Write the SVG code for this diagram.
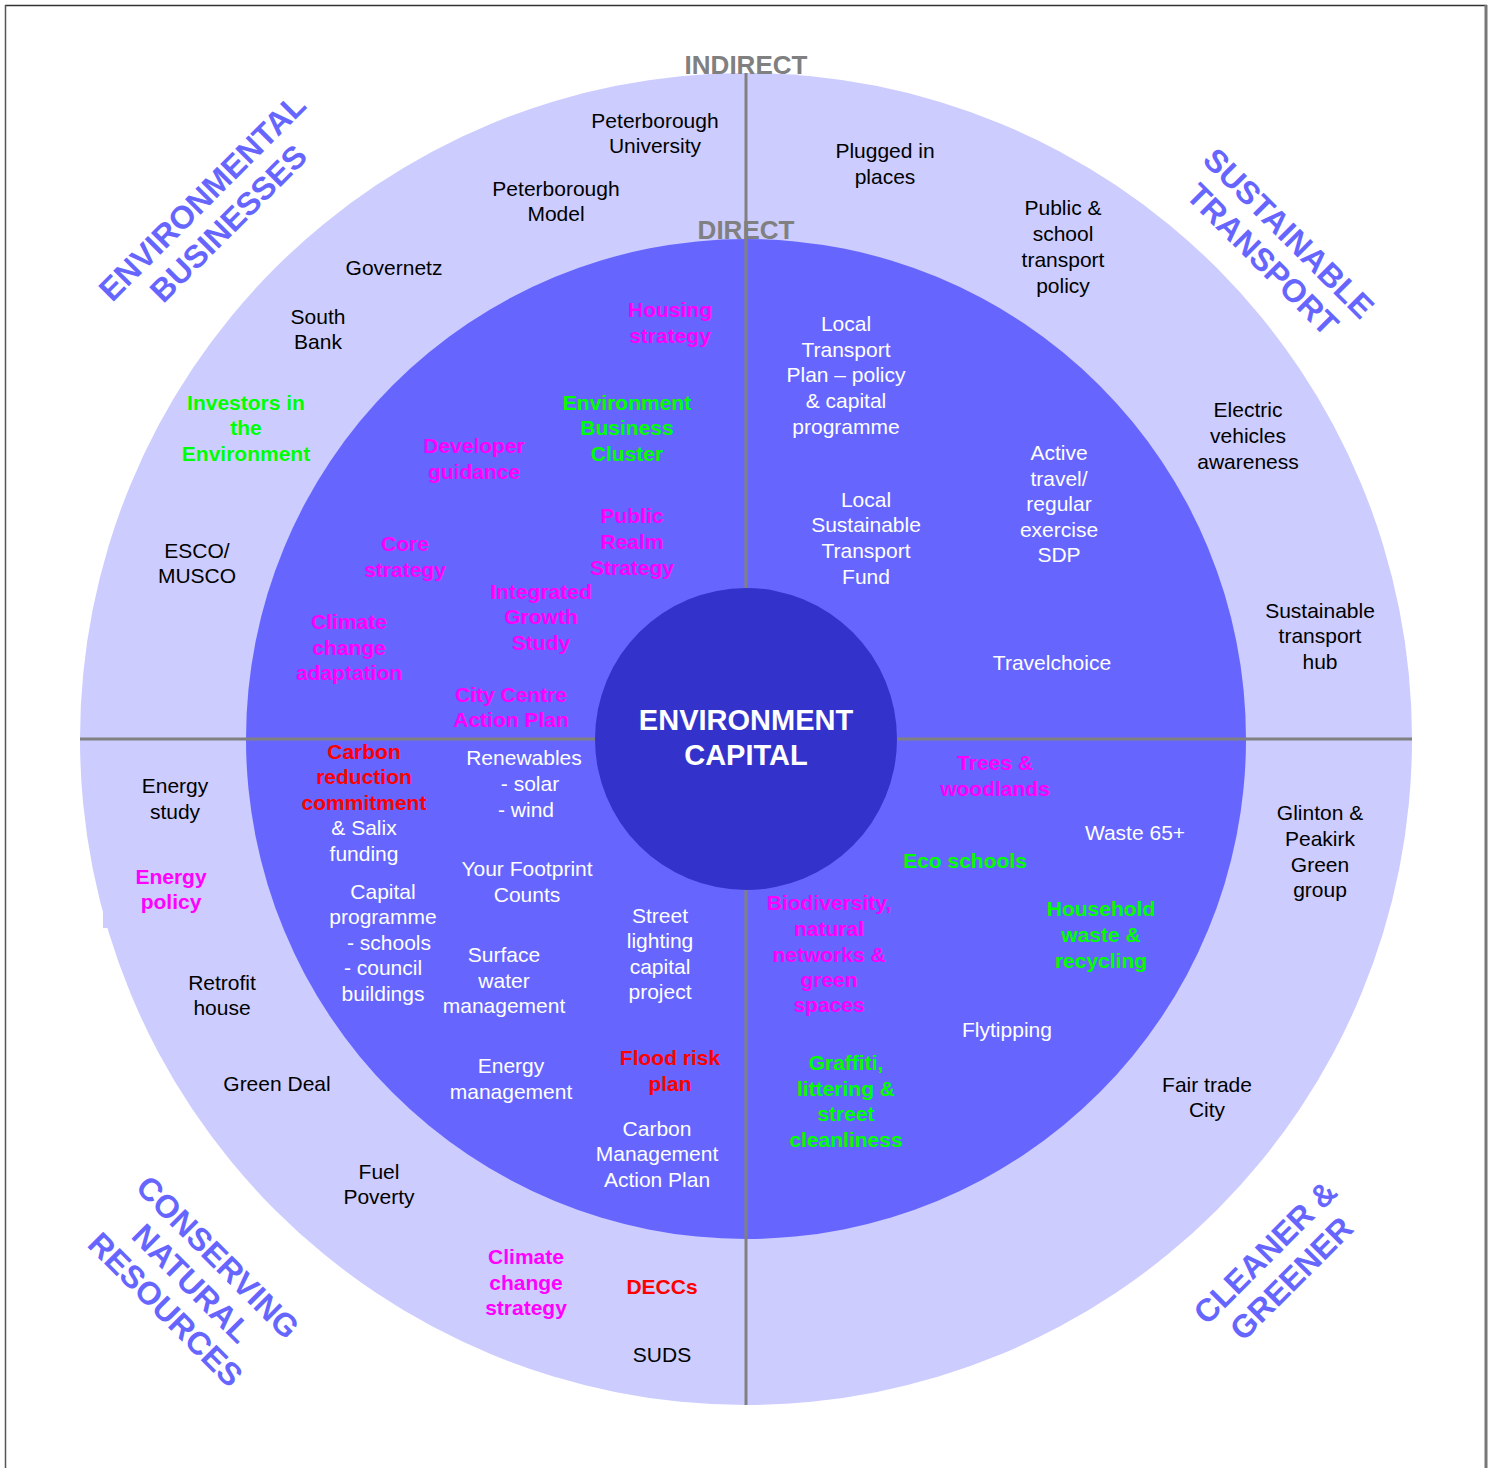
<svg xmlns="http://www.w3.org/2000/svg" width="1496" height="1468" viewBox="0 0 1496 1468">
<style>
text{font-family:"Liberation Sans",Arial,sans-serif;font-size:21px;text-anchor:middle}
.k{fill:#000}
.w{fill:#fff}
.m{fill:#ff00ff;font-weight:bold}
.g{fill:#00ff00;font-weight:bold}
.r{fill:#ff0000;font-weight:bold}
.q{fill:#6666ff;font-weight:bold;font-size:32px}
.lvl{fill:#808080;font-weight:bold;font-size:26px}
.ctr{fill:#fff;font-weight:bold;font-size:29px}
.div{stroke:#808080;stroke-width:3;fill:none}
</style>
<rect x="0" y="0" width="1496" height="1468" fill="#fff"/>
<g id="frame" fill="none">
<line x1="5" y1="5.5" x2="1487" y2="5.5" stroke="#333" stroke-width="1.5"/>
<line x1="5.5" y1="5" x2="5.5" y2="1468" stroke="#555" stroke-width="1.5"/>
<line x1="1486" y1="5" x2="1486" y2="1468" stroke="#777" stroke-width="3"/>
</g>
<g id="rings">
<circle cx="746" cy="739" r="666" fill="#ccccff"/>
<rect x="103" y="860" width="90" height="68" fill="#ccccff"/>
<circle cx="746" cy="739" r="500" fill="#6666ff"/>
</g>
<g id="levels">
<text class="lvl" x="746" y="74">INDIRECT</text>
<text class="lvl" x="746" y="239">DIRECT</text>
</g>
<g id="connectors">
<line class="div" x1="746" y1="73" x2="746" y2="1405"/>
<line class="div" x1="80" y1="739" x2="1412" y2="739"/>
</g>
<g id="centre">
<circle cx="746" cy="739" r="151" fill="#3333cc"/>
<text class="ctr" x="746" y="730">ENVIRONMENT</text>
<text class="ctr" x="746" y="765">CAPITAL</text>
</g>
<g id="quadrant-labels">
<text class="q" transform="translate(215,210) rotate(-45)"><tspan x="0" y="-7">ENVIRONMENTAL</tspan><tspan x="0" y="30">BUSINESSES</tspan></text>
<text class="q" transform="translate(1276,246) rotate(45)"><tspan x="0" y="-7">SUSTAINABLE</tspan><tspan x="0" y="30">TRANSPORT</tspan></text>
<text class="q" transform="translate(192,1283) rotate(45)"><tspan x="0" y="-25.5">CONSERVING</tspan><tspan x="0" y="11.5">NATURAL</tspan><tspan x="0" y="48.5">RESOURCES</tspan></text>
<text class="q" transform="translate(1278,1265) rotate(-45)"><tspan x="0" y="-7">CLEANER &amp;</tspan><tspan x="0" y="30">GREENER</tspan></text>
</g>
<g id="n-peterborough-university"><text class="k"><tspan x="655" y="128">Peterborough</tspan><tspan x="655" y="153">University</tspan></text></g>
<g id="n-peterborough-model"><text class="k"><tspan x="556" y="196">Peterborough</tspan><tspan x="556" y="221">Model</tspan></text></g>
<g id="n-governetz"><text class="k" x="394" y="275">Governetz</text></g>
<g id="n-south-bank"><text class="k"><tspan x="318" y="324">South</tspan><tspan x="318" y="349">Bank</tspan></text></g>
<g id="n-investors"><text class="g"><tspan x="246" y="410">Investors in</tspan><tspan x="246" y="435">the</tspan><tspan x="246" y="461">Environment</tspan></text></g>
<g id="n-esco"><text class="k"><tspan x="197" y="558">ESCO/</tspan><tspan x="197" y="583">MUSCO</tspan></text></g>
<g id="n-plugged"><text class="k"><tspan x="885" y="158">Plugged in</tspan><tspan x="885" y="184">places</tspan></text></g>
<g id="n-public-school"><text class="k"><tspan x="1063" y="215">Public &amp;</tspan><tspan x="1063" y="241">school</tspan><tspan x="1063" y="267">transport</tspan><tspan x="1063" y="293">policy</tspan></text></g>
<g id="n-electric"><text class="k"><tspan x="1248" y="417">Electric</tspan><tspan x="1248" y="443">vehicles</tspan><tspan x="1248" y="469">awareness</tspan></text></g>
<g id="n-hub"><text class="k"><tspan x="1320" y="618">Sustainable</tspan><tspan x="1320" y="643">transport</tspan><tspan x="1320" y="669">hub</tspan></text></g>
<g id="n-energy-study"><text class="k"><tspan x="175" y="793">Energy</tspan><tspan x="175" y="819">study</tspan></text></g>
<g id="n-energy-policy"><text class="m"><tspan x="171" y="884">Energy</tspan><tspan x="171" y="909">policy</tspan></text></g>
<g id="n-retrofit"><text class="k"><tspan x="222" y="990">Retrofit</tspan><tspan x="222" y="1015">house</tspan></text></g>
<g id="n-green-deal"><text class="k" x="277" y="1091">Green Deal</text></g>
<g id="n-fuel-poverty"><text class="k"><tspan x="379" y="1179">Fuel</tspan><tspan x="379" y="1204">Poverty</tspan></text></g>
<g id="n-climate-strategy"><text class="m"><tspan x="526" y="1264">Climate</tspan><tspan x="526" y="1290">change</tspan><tspan x="526" y="1315">strategy</tspan></text></g>
<g id="n-deccs"><text class="r" x="662" y="1294">DECCs</text></g>
<g id="n-suds"><text class="k" x="662" y="1362">SUDS</text></g>
<g id="n-glinton"><text class="k"><tspan x="1320" y="820">Glinton &amp;</tspan><tspan x="1320" y="846">Peakirk</tspan><tspan x="1320" y="872">Green</tspan><tspan x="1320" y="897">group</tspan></text></g>
<g id="n-fair-trade"><text class="k"><tspan x="1207" y="1092">Fair trade</tspan><tspan x="1207" y="1117">City</tspan></text></g>
<g id="n-housing"><text class="m"><tspan x="670" y="317">Housing</tspan><tspan x="670" y="343">strategy</tspan></text></g>
<g id="n-env-business-cluster"><text class="g"><tspan x="627" y="410">Environment</tspan><tspan x="627" y="435">Business</tspan><tspan x="627" y="461">Cluster</tspan></text></g>
<g id="n-developer"><text class="m"><tspan x="474" y="453">Developer</tspan><tspan x="474" y="479">guidance</tspan></text></g>
<g id="n-public-realm"><text class="m"><tspan x="632" y="523">Public</tspan><tspan x="632" y="549">Realm</tspan><tspan x="632" y="575">Strategy</tspan></text></g>
<g id="n-core"><text class="m"><tspan x="405" y="551">Core</tspan><tspan x="405" y="577">strategy</tspan></text></g>
<g id="n-integrated"><text class="m"><tspan x="541" y="599">Integrated</tspan><tspan x="541" y="624">Growth</tspan><tspan x="541" y="650">Study</tspan></text></g>
<g id="n-climate-adaptation"><text class="m"><tspan x="349" y="629">Climate</tspan><tspan x="349" y="655">change</tspan><tspan x="349" y="680">adaptation</tspan></text></g>
<g id="n-city-centre"><text class="m"><tspan x="511" y="702">City Centre</tspan><tspan x="511" y="727">Action Plan</tspan></text></g>
<g id="n-ltp"><text class="w"><tspan x="846" y="331">Local</tspan><tspan x="846" y="357">Transport</tspan><tspan x="846" y="382">Plan – policy</tspan><tspan x="846" y="408">&amp; capital</tspan><tspan x="846" y="434">programme</tspan></text></g>
<g id="n-lstf"><text class="w"><tspan x="866" y="507">Local</tspan><tspan x="866" y="532">Sustainable</tspan><tspan x="866" y="558">Transport</tspan><tspan x="866" y="584">Fund</tspan></text></g>
<g id="n-active-travel"><text class="w"><tspan x="1059" y="460">Active</tspan><tspan x="1059" y="486">travel/</tspan><tspan x="1059" y="511">regular</tspan><tspan x="1059" y="537">exercise</tspan><tspan x="1059" y="562">SDP</tspan></text></g>
<g id="n-travelchoice"><text class="w" x="1052" y="670">Travelchoice</text></g>
<g id="n-carbon-reduction"><text><tspan class="r" x="364" y="759">Carbon</tspan><tspan class="r" x="364" y="784">reduction</tspan><tspan class="r" x="364" y="810">commitment</tspan><tspan class="w" x="364" y="835">&amp; Salix</tspan><tspan class="w" x="364" y="861">funding</tspan></text></g>
<g id="n-renewables"><text class="w"><tspan x="524" y="765">Renewables</tspan><tspan x="530" y="791">- solar</tspan><tspan x="526" y="817">- wind</tspan></text></g>
<g id="n-footprint"><text class="w"><tspan x="527" y="876">Your Footprint</tspan><tspan x="527" y="902">Counts</tspan></text></g>
<g id="n-capital-programme"><text class="w"><tspan x="383" y="899">Capital</tspan><tspan x="383" y="924">programme</tspan><tspan x="389" y="950">- schools</tspan><tspan x="383" y="975">- council</tspan><tspan x="383" y="1001">buildings</tspan></text></g>
<g id="n-surface-water"><text class="w"><tspan x="504" y="962">Surface</tspan><tspan x="504" y="988">water</tspan><tspan x="504" y="1013">management</tspan></text></g>
<g id="n-street-lighting"><text class="w"><tspan x="660" y="923">Street</tspan><tspan x="660" y="948">lighting</tspan><tspan x="660" y="974">capital</tspan><tspan x="660" y="999">project</tspan></text></g>
<g id="n-energy-management"><text class="w"><tspan x="511" y="1073">Energy</tspan><tspan x="511" y="1099">management</tspan></text></g>
<g id="n-flood-risk"><text class="r"><tspan x="670" y="1065">Flood risk</tspan><tspan x="670" y="1091">plan</tspan></text></g>
<g id="n-carbon-management"><text class="w"><tspan x="657" y="1136">Carbon</tspan><tspan x="657" y="1161">Management</tspan><tspan x="657" y="1187">Action Plan</tspan></text></g>
<g id="n-trees"><text class="m"><tspan x="995" y="770">Trees &amp;</tspan><tspan x="995" y="796">woodlands</tspan></text></g>
<g id="n-waste65"><text class="w" x="1135" y="840">Waste 65+</text></g>
<g id="n-eco-schools"><text class="g" x="965" y="868">Eco schools</text></g>
<g id="n-biodiversity"><text class="m"><tspan x="829" y="910">Biodiversity,</tspan><tspan x="829" y="936">natural</tspan><tspan x="829" y="962">networks &amp;</tspan><tspan x="829" y="987">green</tspan><tspan x="829" y="1012">spaces</tspan></text></g>
<g id="n-household-waste"><text class="g"><tspan x="1101" y="916">Household</tspan><tspan x="1101" y="942">waste &amp;</tspan><tspan x="1101" y="968">recycling</tspan></text></g>
<g id="n-flytipping"><text class="w" x="1007" y="1037">Flytipping</text></g>
<g id="n-graffiti"><text class="g"><tspan x="846" y="1070">Graffiti,</tspan><tspan x="846" y="1096">littering &amp;</tspan><tspan x="846" y="1121">street</tspan><tspan x="846" y="1147">cleanliness</tspan></text></g>
</svg>
